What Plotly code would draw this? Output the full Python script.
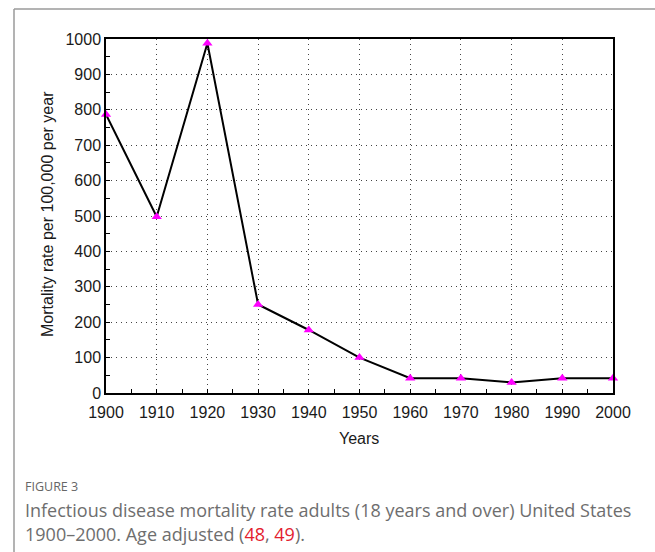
import plotly.graph_objects as go

years = [1900, 1910, 1920, 1930, 1940, 1950, 1960, 1970, 1980, 1990, 2000]
mortality = [787, 498, 988, 250, 178, 100, 42, 42, 30, 42, 42]
x_ticks = list(range(1900, 2001, 10))
y_ticks = list(range(0, 1001, 100))

W, H = 655, 552
L, R, T, B = 106, 613, 39, 393
pw, ph = R - L, B - T


def px(x):
    return (x - L) / pw


def py(y):
    return (B - y) / ph


fig = go.Figure()
fig.add_trace(go.Scatter(
    x=years, y=mortality, mode="lines+markers",
    line=dict(color="black", width=2),
    marker=dict(symbol="triangle-up", color="#ff00ff", size=9),
    cliponaxis=False, showlegend=False,
))

AX_FONT = "Liberation Sans, Arial, sans-serif"
tick_font = dict(family=AX_FONT, size=16, color="#1a1a1a")
fig.update_xaxes(
    range=[1900, 2000], tickvals=x_ticks, ticktext=[str(v) for v in x_ticks],
    showgrid=True, gridcolor="#444", gridwidth=1, griddash="1px,4px",
    showline=True, linecolor="black", linewidth=1.5, mirror=True,
    ticks="inside", ticklen=4, tickcolor="black",
    minor=dict(dtick=5, ticks="inside", ticklen=4, tickcolor="black", showgrid=False),
    tickfont=tick_font, zeroline=False, fixedrange=True, ticklabelstandoff=4,
)
fig.update_yaxes(
    range=[0, 1000], tickvals=y_ticks, ticktext=[str(v) for v in y_ticks],
    showgrid=True, gridcolor="#444", gridwidth=1, griddash="1px,4px",
    showline=True, linecolor="black", linewidth=1.5, mirror=True,
    ticks="inside", ticklen=4, tickcolor="black",
    minor=dict(dtick=50, ticks="inside", ticklen=4, tickcolor="black", showgrid=False),
    tickfont=tick_font, zeroline=False, fixedrange=True,
)

# frame box around the figure (extends past right/bottom edges)
fig.add_shape(type="line", xref="paper", yref="paper",
              x0=px(14), x1=px(W + 10), y0=py(9), y1=py(9),
              line=dict(color="#9a9a9a", width=1.5))
fig.add_shape(type="line", xref="paper", yref="paper",
              x0=px(14), x1=px(14), y0=py(9), y1=py(H + 10),
              line=dict(color="#9a9a9a", width=1.5))

fig.add_annotation(text="Mortality rate per 100,000 per year", xref="paper", yref="paper",
                   x=px(47), y=py(214), textangle=-90, showarrow=False,
                   font=dict(family=AX_FONT, size=16, color="#1a1a1a"),
                   xanchor="center", yanchor="middle")
fig.add_annotation(text="Years", xref="paper", yref="paper",
                   x=px(359), y=py(438), showarrow=False,
                   font=dict(family=AX_FONT, size=16, color="#1a1a1a"),
                   xanchor="center", yanchor="middle")

CAP_FONT = "Open Sans, sans-serif"
fig.add_annotation(text="FIGURE 3", xref="paper", yref="paper",
                   x=px(23), y=py(486), showarrow=False, xanchor="left", yanchor="middle",
                   font=dict(family=CAP_FONT, size=12.5, color="#666666"))
fig.add_annotation(text="Infectious disease mortality rate adults (18 years and over) United States",
                   xref="paper", yref="paper",
                   x=px(23), y=py(510), showarrow=False, xanchor="left", yanchor="middle",
                   font=dict(family=CAP_FONT, size=18, color="#6e6e6e"))
fig.add_annotation(text="1900\u20132000. Age adjusted (<span style='color:#e3202e'>48</span>, "
                        "<span style='color:#e3202e'>49</span>).",
                   xref="paper", yref="paper",
                   x=px(23), y=py(534), showarrow=False, xanchor="left", yanchor="middle",
                   font=dict(family=CAP_FONT, size=18, color="#6e6e6e"))

fig.update_layout(
    width=W, height=H,
    margin=dict(l=L, r=W - R, t=T, b=H - B, autoexpand=False),
    paper_bgcolor="white", plot_bgcolor="white",
)
fig.write_html("out.html", config={"displayModeBar": False},
               post_script="document.body.style.margin='0';document.body.style.overflow='hidden';")
